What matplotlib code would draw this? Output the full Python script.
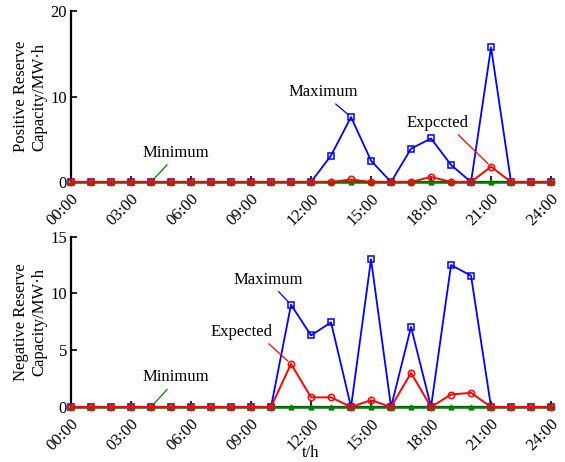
import matplotlib
matplotlib.use("Agg")
import matplotlib.pyplot as plt

plt.rcParams['font.family'] = ['Liberation Serif', 'DejaVu Serif']
plt.rcParams['font.size'] = 12

hours = list(range(25))
tick_pos = [0, 3, 6, 9, 12, 15, 18, 21, 24]
tick_lbl = ["00:00", "03:00", "06:00", "09:00", "12:00", "15:00", "18:00", "21:00", "24:00"]

# positive reserve (top)
pos_max = [0, 0, 0, 0, 0, 0, 0, 0, 0, 0, 0, 0, 0, 3.1, 7.6, 2.5, 0, 3.9, 5.1, 2.0, 0, 15.75, 0, 0, 0]
pos_exp = [0, 0, 0, 0, 0, 0, 0, 0, 0, 0, 0, 0, 0, 0, 0.3, 0, 0, 0, 0.6, 0, 0, 1.8, 0, 0, 0]
pos_min = [0] * 25

# negative reserve (bottom)
neg_max = [0, 0, 0, 0, 0, 0, 0, 0, 0, 0, 0, 9.0, 6.3, 7.45, 0, 13.0, 0, 7.05, 0, 12.5, 11.55, 0, 0, 0, 0]
neg_exp = [0, 0, 0, 0, 0, 0, 0, 0, 0, 0, 0, 3.8, 0.85, 0.85, 0, 0.6, 0, 3.0, 0, 1.1, 1.25, 0, 0, 0, 0]
neg_min = [0] * 25

fig = plt.figure(figsize=(5.65, 4.62), dpi=100)
ax1 = fig.add_axes([0.1257, 0.606, 0.8496, 0.370])
ax2 = fig.add_axes([0.1257, 0.119, 0.8496, 0.369])


def draw(ax, mx, ex, mn, ymax, yticks):
    ax.plot(hours, mx, color='blue', lw=1.3, marker='s', ms=4.4, mfc='none', mew=1.1, clip_on=False, zorder=3)
    ax.plot(hours, mn, color='green', lw=1.8, marker='^', ms=3.5, clip_on=False, zorder=4)
    ax.plot(hours, ex, color='red', lw=1.4, marker='o', ms=4.6, mfc='none', mew=1.1, clip_on=False, zorder=5)
    ax.set_xlim(0, 24)
    ax.set_ylim(0, ymax)
    ax.set_yticks(yticks)
    ax.set_xticks(tick_pos)
    ax.set_xticklabels(tick_lbl, rotation=45, ha='right', va='top', rotation_mode='anchor')
    for s in ['top', 'right']:
        ax.spines[s].set_visible(False)
    for s in ['left', 'bottom']:
        ax.spines[s].set_linewidth(1.6)
    ax.tick_params(direction='in', length=4, width=1.2, pad=3)
    ax.tick_params(axis='x', pad=6)


draw(ax1, pos_max, pos_exp, pos_min, 20, [0, 10, 20])
draw(ax2, neg_max, neg_exp, neg_min, 15, [0, 5, 10, 15])

ax1.set_ylabel("Positive Reserve\nCapacity/MW·h", labelpad=2)
ax2.set_ylabel("Negative Reserve\nCapacity/MW·h", labelpad=2)
ax2.set_xlabel("t/h", labelpad=-6)

ax1.annotate("Maximum", xy=(14, 7.6), xytext=(12.6, 10.5), ha='center', va='center',
             arrowprops=dict(arrowstyle='-', color='blue', lw=0.9, relpos=(0.62, 0), shrinkA=1, shrinkB=3))
ax1.annotate("Expccted", xy=(21, 1.8), xytext=(18.3, 6.9), ha='center', va='center',
             arrowprops=dict(arrowstyle='-', color='red', lw=0.9, relpos=(0.78, 0), shrinkA=1, shrinkB=3))
ax1.annotate("Minimum", xy=(4, 0), xytext=(5.25, 3.4), ha='center', va='center',
             arrowprops=dict(arrowstyle='-', color='green', lw=0.9, relpos=(0.42, 0), shrinkA=1, shrinkB=1))

ax2.annotate("Maximum", xy=(11, 9.0), xytext=(9.85, 11.2), ha='center', va='center',
             arrowprops=dict(arrowstyle='-', color='blue', lw=0.9, relpos=(0.6, 0), shrinkA=1, shrinkB=3))
ax2.annotate("Expected", xy=(11, 3.8), xytext=(8.5, 6.6), ha='center', va='center',
             arrowprops=dict(arrowstyle='-', color='red', lw=0.9, relpos=(0.88, 0), shrinkA=1, shrinkB=3))
ax2.annotate("Minimum", xy=(4, 0), xytext=(5.25, 2.6), ha='center', va='center',
             arrowprops=dict(arrowstyle='-', color='green', lw=0.9, relpos=(0.42, 0), shrinkA=1, shrinkB=1))

fig.savefig("out.png", dpi=100)
